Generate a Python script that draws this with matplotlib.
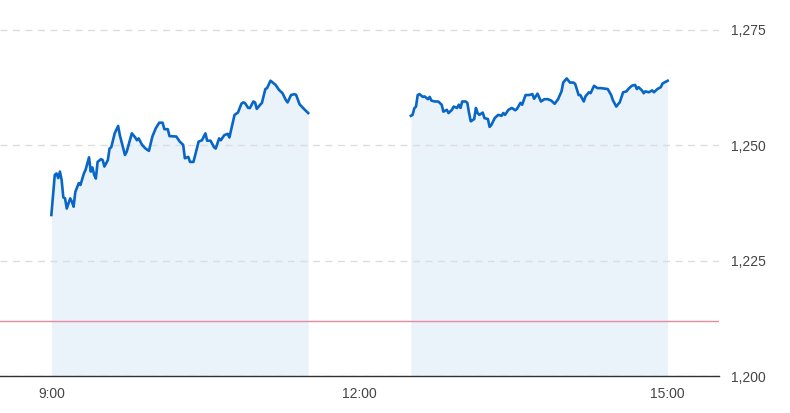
import matplotlib
matplotlib.use("Agg")
import matplotlib.pyplot as plt
import numpy as np

# minutes after 9:00 and index level
am_min = [0, 2, 3, 4, 5, 6, 7, 8, 9, 11, 12, 13, 14, 16, 17, 19, 20, 22, 23, 24,
          25, 26, 27, 29, 30, 31, 33, 34, 35, 37, 39, 40, 43, 44, 47, 49, 50, 51, 53, 55,
          57, 59, 61, 63, 65, 66, 68, 69, 73, 75, 77, 78, 80, 81, 83, 85, 86, 88, 90, 91,
          93, 95, 96, 98, 99, 101, 103, 104, 107, 109, 111, 112, 113, 115, 116, 118, 119, 120, 122, 123,
          125, 126, 128, 130, 131, 133, 135, 137, 138, 140, 142, 143, 145, 147, 150]
am_val = [1234.9, 1243.6, 1243.9, 1242.9, 1244.3, 1242.5, 1238.7, 1238.5, 1236.3, 1238.5,
          1237.8, 1236.7, 1239.9, 1241.8, 1241.4, 1243.9, 1244.7, 1247.4, 1244.3, 1245.2,
          1243.6, 1242.8, 1246.4, 1247.0, 1246.8, 1245.4, 1246.8, 1249.3, 1249.6, 1252.6,
          1254.2, 1252.2, 1247.9, 1248.6, 1252.6, 1251.7, 1251.1, 1251.5, 1250.1, 1249.3,
          1248.8, 1251.9, 1253.7, 1254.9, 1254.9, 1253.5, 1253.5, 1252.0, 1251.9, 1250.8,
          1250.1, 1247.2, 1247.5, 1246.4, 1246.4, 1249.3, 1250.8, 1251.1, 1252.6, 1251.0,
          1251.0, 1249.6, 1249.3, 1251.5, 1251.1, 1252.2, 1252.5, 1251.7, 1256.6, 1257.1,
          1259.0, 1259.3, 1259.2, 1258.1, 1258.1, 1259.5, 1259.3, 1257.9, 1258.8, 1259.2,
          1262.2, 1262.4, 1264.0, 1263.4, 1263.1, 1262.0, 1261.3, 1259.8, 1259.3, 1260.9,
          1261.1, 1260.9, 1258.9, 1258.1, 1257.0]

pm_min = [210, 211, 212, 213, 214, 215, 217, 218, 220, 221, 222, 224, 226, 228, 229, 231,
          232, 234, 235, 237, 238, 239, 240, 242, 243, 244, 245, 247, 248, 249, 250, 252,
          253, 255, 256, 257, 259, 261, 263, 264, 265, 267, 269, 271, 272, 274, 275, 277,
          279, 281, 282, 284, 286, 288, 290, 292, 294, 296, 298, 299, 301, 303, 305, 306,
          308, 309, 311, 312, 314, 315, 317, 319, 321, 325, 327, 328, 330, 331, 332, 334,
          336, 337, 339, 341, 342, 343, 345, 346, 347, 349, 350, 351, 352, 354, 356, 357, 360]
pm_val = [1256.4, 1256.6, 1258.0, 1258.4, 1260.9, 1261.1, 1260.5, 1260.6, 1260.0, 1260.5,
          1259.7, 1259.5, 1259.5, 1258.8, 1257.3, 1257.7, 1257.0, 1257.7, 1258.4, 1258.1,
          1258.8, 1258.1, 1259.5, 1259.5, 1259.2, 1257.0, 1255.2, 1255.7, 1258.1, 1257.0,
          1256.6, 1257.1, 1255.9, 1255.7, 1254.0, 1254.4, 1255.9, 1256.6, 1256.4, 1257.0,
          1256.6, 1257.7, 1258.1, 1257.6, 1257.9, 1259.2, 1258.8, 1260.9, 1260.9, 1261.1,
          1260.1, 1261.2, 1259.5, 1260.0, 1260.0, 1259.7, 1259.0, 1260.0, 1261.7, 1263.6,
          1264.5, 1263.6, 1263.6, 1263.3, 1260.9, 1260.9, 1259.5, 1260.6, 1261.5, 1261.3,
          1262.9, 1262.4, 1262.4, 1262.2, 1260.9, 1259.8, 1258.4, 1258.9, 1259.3, 1261.5,
          1261.7, 1262.2, 1262.9, 1263.1, 1262.2, 1262.6, 1261.9, 1261.3, 1261.7, 1261.5,
          1261.7, 1261.9, 1261.5, 1262.2, 1262.6, 1263.4, 1264.0]

prev_close = 1211.9
y_ticks = [1200, 1225, 1250, 1275]
y_labels = ["1,200", "1,225", "1,250", "1,275"]
x_ticks = [0, 180, 360]
x_labels = ["9:00", "12:00", "15:00"]

LINE = "#0866c6"
FILL = "#eaf2fa"
TEXT = "#444444"

plt.rcParams["font.family"] = ["Liberation Sans", "DejaVu Sans"]

fig = plt.figure(figsize=(7.9, 4.13), dpi=100)
ax = fig.add_axes([0, 37 / 413, 719 / 790, 376 / 413])

base = 1200
for xs, ys in ((am_min, am_val), (pm_min, pm_val)):
    ax.fill_between(xs, ys, base, color=FILL, linewidth=0, zorder=1)
    ax.plot(xs, ys, color=LINE, linewidth=1.9, solid_joinstyle="round", zorder=3)

ax.axhline(prev_close, color="#e88aa0", linewidth=1, zorder=2)

ax.set_xlim(-30, 390)
ax.set_ylim(1200, 1281.5)

ax.yaxis.tick_right()
ax.set_yticks(y_ticks)
ax.set_yticklabels(y_labels)
ax.set_xticks(x_ticks)
ax.set_xticklabels(x_labels)
ax.tick_params(axis="y", length=0, pad=9, labelsize=10, labelcolor=TEXT)
ax.tick_params(axis="x", length=0, pad=8, labelsize=10, labelcolor=TEXT)

ax.grid(axis="y", color="#dddddd", linestyle=(0, (5, 4)), linewidth=1, zorder=0)
ax.grid(axis="x", visible=False)

for side in ("top", "left", "right"):
    ax.spines[side].set_visible(False)
ax.spines["bottom"].set_color("#333333")
ax.spines["bottom"].set_linewidth(1)
ax.spines["bottom"].set_zorder(4)

fig.savefig("out.png", dpi=100)
